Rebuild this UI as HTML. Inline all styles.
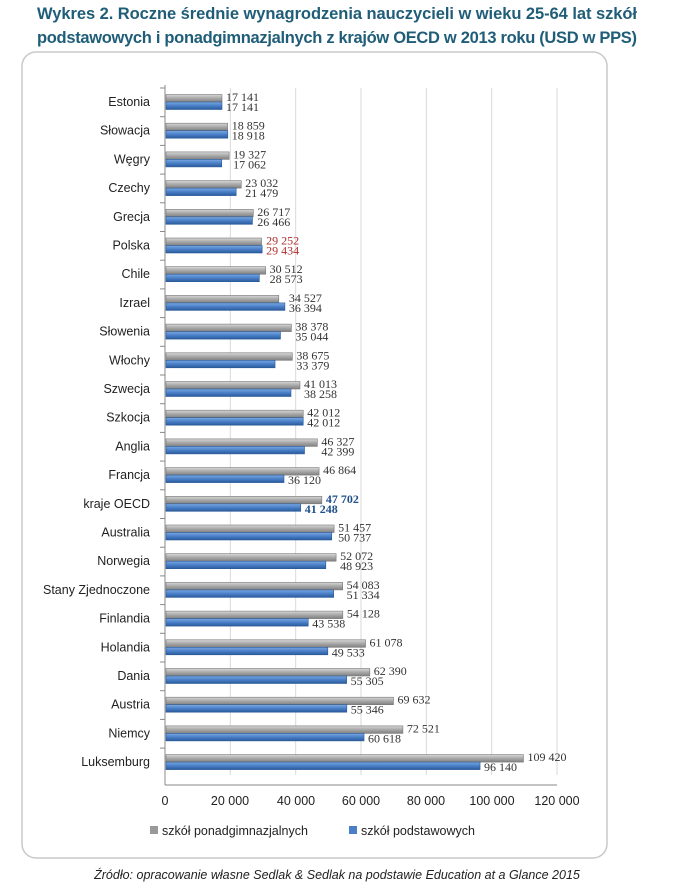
<!DOCTYPE html>
<html><head><meta charset="utf-8"><style>
body{margin:0;background:#fff;width:675px;height:886px;overflow:hidden;font-family:"Liberation Sans",sans-serif}
</style></head><body>
<svg width="675" height="886" xmlns="http://www.w3.org/2000/svg">
<defs>
<linearGradient id="g" x1="0" y1="0" x2="0" y2="1"><stop offset="0" stop-color="#d8d8d8"/><stop offset="0.5" stop-color="#a8a8a8"/><stop offset="1" stop-color="#808080"/></linearGradient>
<linearGradient id="b" x1="0" y1="0" x2="0" y2="1"><stop offset="0" stop-color="#7aa8e0"/><stop offset="0.5" stop-color="#4a7fc8"/><stop offset="1" stop-color="#2a5a9a"/></linearGradient>
</defs>
<text x="337" y="19" text-anchor="middle" font-size="16.5" font-weight="bold" fill="#1f5d78" textLength="600">Wykres 2. Roczne średnie wynagrodzenia nauczycieli w wieku 25-64 lat szkół</text>
<text x="337" y="43" text-anchor="middle" font-size="16.5" font-weight="bold" fill="#1f5d78" textLength="600">podstawowych i ponadgimnazjalnych z krajów OECD w 2013 roku (USD w PPS)</text>
<rect x="22" y="52" width="585" height="806" rx="14" fill="#fff" stroke="#c8c8c8" stroke-width="1.5"/>
<g stroke="#d9d9d9" stroke-width="1">
<line x1="230.3" y1="88" x2="230.3" y2="775"/><line x1="295.7" y1="88" x2="295.7" y2="775"/><line x1="361" y1="88" x2="361" y2="775"/><line x1="426.3" y1="88" x2="426.3" y2="775"/><line x1="491.7" y1="88" x2="491.7" y2="775"/><line x1="557" y1="88" x2="557" y2="775"/>
</g>
<line x1="165" y1="85" x2="165" y2="785" stroke="#888"/>
<line x1="165" y1="785" x2="557" y2="785" stroke="#888"/>
<g id="bars" font-family="Liberation Serif,serif" font-size="12" fill="#333"></g>
<g font-size="12.5" fill="#222" text-anchor="middle">
<text x="165" y="805">0</text><text x="230" y="805">20 000</text><text x="296" y="805">40 000</text><text x="361" y="805">60 000</text><text x="426" y="805">80 000</text><text x="492" y="805">100 000</text><text x="557" y="805">120 000</text>
</g>
<rect x="150" y="826" width="8" height="8" fill="#999"/>
<text x="162" y="835" font-size="12.5" fill="#222">szkół ponadgimnazjalnych</text>
<rect x="349" y="826" width="8" height="8" fill="#4a7fc8"/>
<text x="361" y="835" font-size="12.5" fill="#222">szkół podstawowych</text>
<text x="337" y="879" text-anchor="middle" font-size="12.5" font-style="italic" fill="#222">Źródło: opracowanie własne Sedlak &amp; Sedlak na podstawie Education at a Glance 2015</text>
<g font-size="12.5" fill="#222" text-anchor="end" id="labels"></g>
</svg>
<script>
var d=[["Estonia",17141,17141],["Słowacja",18859,18918],["Węgry",19327,17062],["Czechy",23032,21479],["Grecja",26717,26466],["Polska",29252,29434],["Chile",30512,28573],["Izrael",34527,36394],["Słowenia",38378,35044],["Włochy",38675,33379],["Szwecja",41013,38258],["Szkocja",42012,42012],["Anglia",46327,42399],["Francja",46864,36120],["kraje OECD",47702,41248],["Australia",51457,50737],["Norwegia",52072,48923],["Stany Zjednoczone",54083,51334],["Finlandia",54128,43538],["Holandia",61078,49533],["Dania",62390,55305],["Austria",69632,55346],["Niemcy",72521,60618],["Luksemburg",109420,96140]];
var ns="http://www.w3.org/2000/svg",B=document.getElementById("bars"),L=document.getElementById("labels");
function el(p,t,a,tx){var e=document.createElementNS(ns,t);for(var k in a)e.setAttribute(k,a[k]);if(tx)e.textContent=tx;p.appendChild(e);return e;}
function f(v){var s=String(v);return s.length>3?s.slice(0,-3)+" "+s.slice(-3):s;}
var sc=392/120000;
d.forEach(function(r,i){var c=102+28.7*i;
el(L,"text",{x:150,y:c+4},r[0]);
el(B,"line",{x1:160,y1:c-14,x2:165,y2:c-14,stroke:"#888"});
var w1=r[1]*sc,w2=r[2]*sc;
el(B,"rect",{x:166,y:c-7.5,width:w1,height:7.5,fill:"url(#g)",stroke:"#777","stroke-width":0.6});
el(B,"rect",{x:166,y:c,width:w2,height:7.5,fill:"url(#b)",stroke:"#2a5a9a","stroke-width":0.6});
var col=i==5?"#b03030":(i==14?"#1f4f8a":"#333"),fw=i==14?"bold":"normal";
var x1=166+w1+4,x2=166+w2+4;
if(Math.abs(w1-w2)<20){x1=x2=166+Math.max(w1,w2)+4;}
el(B,"text",{x:x1,y:c-1,fill:col,"font-weight":fw},f(r[1]));
el(B,"text",{x:x2,y:c+9,fill:col,"font-weight":fw},f(r[2]));
});
</script>
</body></html>
